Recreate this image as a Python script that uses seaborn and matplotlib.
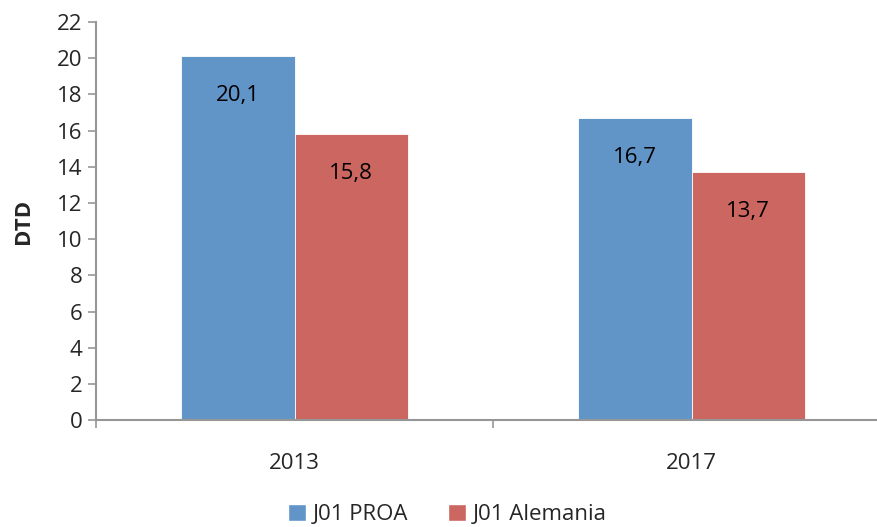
import matplotlib
matplotlib.use("Agg")
import matplotlib.pyplot as plt
import seaborn as sns
import pandas as pd
from matplotlib.ticker import FixedLocator

years = ["2013", "2017"]
series = ["J01 PROA", "J01 Alemania"]
proa = [20.1, 16.7]
alemania = [15.8, 13.7]
colors = ["#6195C8", "#CC6660"]

df = pd.DataFrame({
    "year": years * 2,
    "serie": [series[0]] * 2 + [series[1]] * 2,
    "DTD": proa + alemania,
})

sns.set_style("white")
plt.rcParams["font.family"] = ["Open Sans", "DejaVu Sans"]

fig = plt.figure(figsize=(8.77, 5.27), dpi=100)
ax = fig.add_axes([0.1095, 0.203, 0.9054, 0.755])

sns.barplot(data=df, x="year", y="DTD", hue="serie", palette=colors,
            width=0.57, gap=0, saturation=1, ax=ax, legend=True)

for cont in ax.containers:
    for bar in cont:
        bar.set_edgecolor("white")
        bar.set_linewidth(0.6)
    labels = [f"{b.get_height():.1f}".replace(".", ",") for b in cont]
    ax.bar_label(cont, labels=labels, label_type="edge", padding=-36,
                 fontsize=16, color="black")

ax.set_xlim(-0.5, 1.5)
ax.set_ylim(0, 22)
ax.set_yticks(range(0, 23, 2))
ax.set_xlabel("")
ax.set_ylabel("DTD", fontsize=16, fontweight="bold", labelpad=16)

for s in ["top", "right"]:
    ax.spines[s].set_visible(False)
for s in ["left", "bottom"]:
    ax.spines[s].set_color("#969696")
    ax.spines[s].set_linewidth(1.5)

ax.tick_params(axis="y", left=True, length=6, width=1.2, color="#969696",
               labelsize=16, pad=4)
ax.tick_params(axis="x", which="major", bottom=False, labelsize=16, pad=20)
ax.xaxis.set_minor_locator(FixedLocator([-0.5, 0.5, 1.5]))
ax.tick_params(axis="x", which="minor", bottom=True, length=6, width=1.2,
               color="#969696")

handles, labs = ax.get_legend_handles_labels()
ax.legend_.remove()
fig.legend(handles, labs, loc="lower center", bbox_to_anchor=(0.51, -0.035),
           ncol=2, frameon=False, fontsize=16, handlelength=0.8,
           handleheight=0.8, handletextpad=0.3, columnspacing=1.8)

fig.savefig("out.png", dpi=100)
